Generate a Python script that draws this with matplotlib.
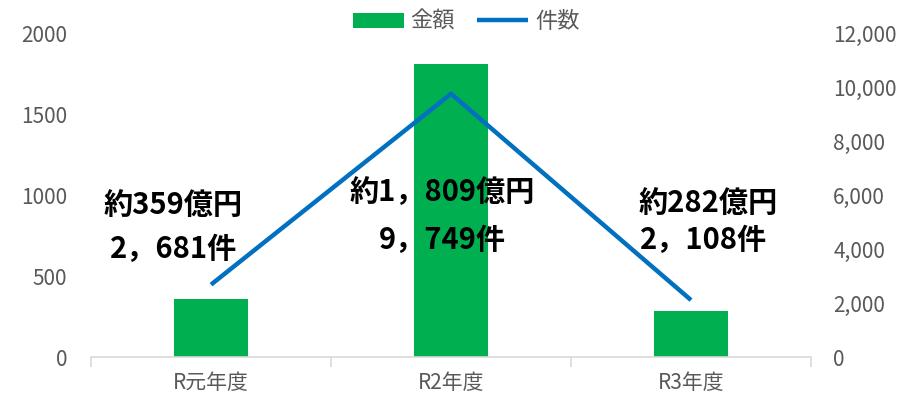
import matplotlib.pyplot as plt
from matplotlib.ticker import FuncFormatter, FixedLocator

plt.rcParams['font.family'] = ['Noto Sans CJK JP', 'DejaVu Sans']

# データ
categories = ['R元年度', 'R2年度', 'R3年度']
amounts = [359, 1809, 282]          # 金額（億円）
counts = [2681, 9749, 2108]         # 件数
amount_labels = ['約359億円', '約1，809億円', '約282億円']
count_labels = ['2，681件', '9，749件', '2，108件']

green = '#00B050'
blue = '#0070C0'
gray = '#595959'

fig = plt.figure(figsize=(9.12, 4.01), dpi=100)
ax = fig.add_axes([0.0998, 0.1097, 0.7895, 0.808])
ax2 = ax.twinx()

x = list(range(len(categories)))
ax.bar(x, amounts, width=0.31, color=green, zorder=2, label='金額')
ax2.plot(x, counts, color=blue, linewidth=3.2, solid_capstyle='butt', zorder=3, label='件数')

ax.set_xlim(-0.5, 2.5)
ax.set_ylim(0, 2000)
ax2.set_ylim(0, 12000)
ax.set_yticks(range(0, 2001, 500))
ax2.set_yticks(range(0, 12001, 2000))
ax2.yaxis.set_major_formatter(FuncFormatter(lambda v, p: f'{int(v):,}'))

for a in (ax, ax2):
    for s in a.spines.values():
        s.set_visible(False)
    a.tick_params(axis='y', length=0, labelsize=15, labelcolor=gray)
ax.tick_params(axis='y', pad=17)
ax2.tick_params(axis='y', pad=16)

ax.spines['bottom'].set_visible(True)
ax.spines['bottom'].set_color('#D9D9D9')
ax.spines['bottom'].set_linewidth(1.2)
ax.set_xticks(x)
ax.set_xticklabels(categories)
ax.tick_params(axis='x', length=0, labelsize=15, labelcolor=gray, pad=11)
ax.xaxis.set_minor_locator(FixedLocator([-0.5, 0.5, 1.5, 2.5]))
ax.tick_params(axis='x', which='minor', length=7, color='#D9D9D9', width=1.2)

# ラベル
amount_pos = [(-0.157, 940), (-0.037, 1017), (0.073, 950)]
count_pos = [(-0.157, 665), (-0.037, 720), (0.053, 720)]
for i in x:
    dx, y = amount_pos[i]
    ax.text(i + dx, y, amount_labels[i], ha='center', va='center',
            fontsize=21, fontweight='bold', color='black', zorder=5)
    dx, y = count_pos[i]
    ax.text(i + dx, y, count_labels[i], ha='center', va='center',
            fontsize=21, fontweight='bold', color='black', zorder=5)

h1, l1 = ax.get_legend_handles_labels()
h2, l2 = ax2.get_legend_handles_labels()
fig.legend(h1 + h2, l1 + l2, loc='upper center', bbox_to_anchor=(0.511, 1.025), ncol=2,
           frameon=False, fontsize=16, labelcolor=gray, handlelength=2.3,
           handleheight=0.65, columnspacing=1.0, handletextpad=0.3)

fig.savefig('out.png', dpi=100)
